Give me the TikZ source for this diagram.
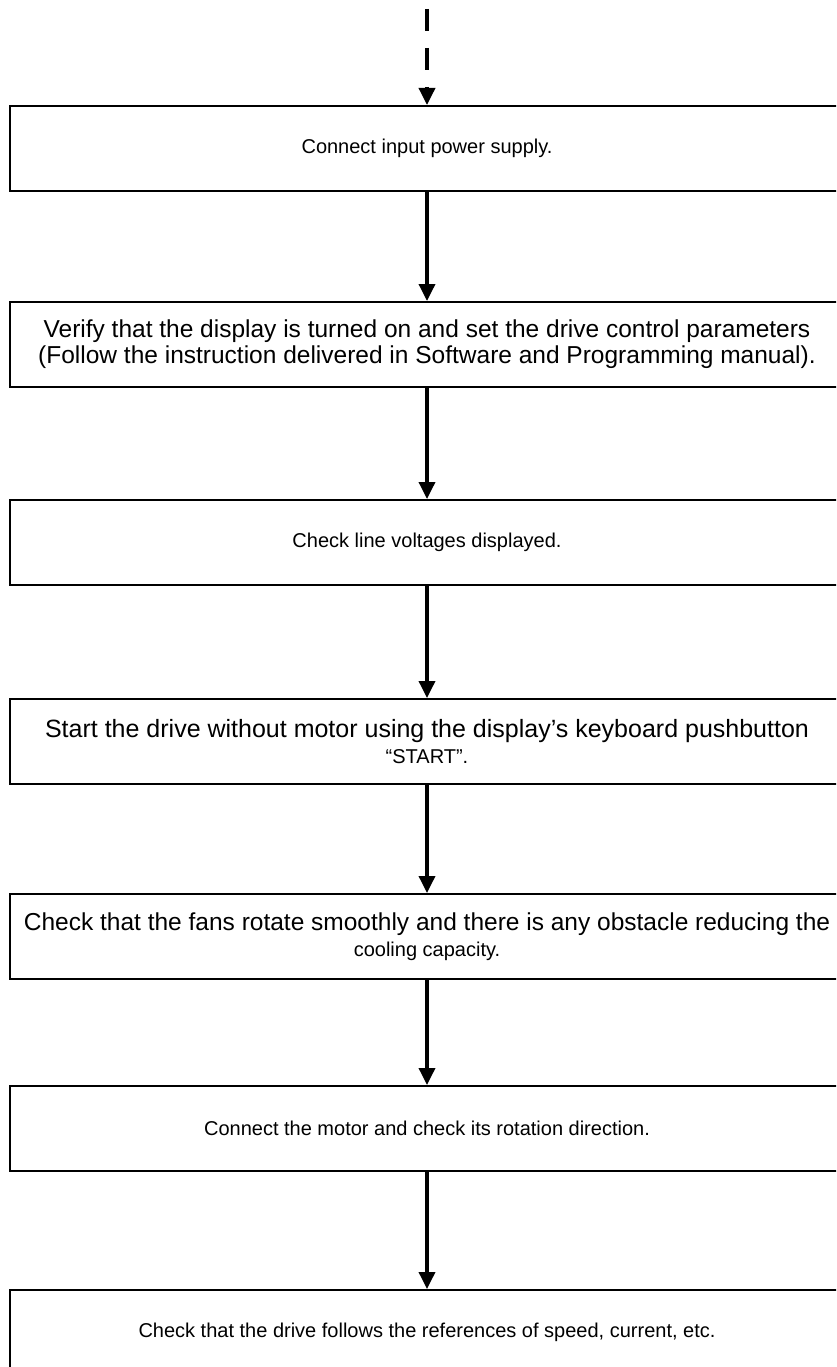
\documentclass[tikz,border=0pt]{standalone}
\usepackage{fontspec}
\setmainfont{Liberation Sans}
\usetikzlibrary{arrows.meta}
\newcommand{\bigline}{\fontsize{25pt}{26pt}\selectfont}
\newcommand{\fanline}{\fontsize{24.5pt}{26pt}\selectfont}
\newcommand{\midline}{\fontsize{24.5pt}{26pt}\selectfont}
\newcommand{\smallline}{\fontsize{20pt}{26pt}\selectfont}
\tikzset{
  stepbox/.style={draw=black, line width=1.6pt, minimum width=834pt, minimum height=85pt,
    inner sep=0pt, anchor=north, align=center,
    font=\fontsize{20pt}{26pt}\selectfont},
  flowarrow/.style={line width=3.5pt, -{Triangle[width=16pt,length=17pt]}},
  dasharrow/.style={flowarrow, dash pattern=on 22pt off 17pt}
}
\begin{document}
\begin{tikzpicture}[x=1pt,y=-1pt]
\clip (0,0) rectangle (836,1367);
\fill[white] (0,0) rectangle (836,1367);
\coordinate (start) at (427,9);
\node[stepbox] (b1) at (427,105) {Connect input power supply.};
\node[stepbox] (b2) at (427,301) {\midline Verify that the display is turned on and set the drive control parameters\\\midline (Follow the instruction delivered in Software and Programming manual).};
\node[stepbox] (b3) at (427,499) {Check line voltages displayed.};
\node[stepbox] (b4) at (427,698) {\bigline Start the drive without motor using the display’s keyboard pushbutton\\\smallline “START”.};
\node[stepbox] (b5) at (427,893) {\fanline Check that the fans rotate smoothly and there is any obstacle reducing the\\\smallline cooling capacity.};
\node[stepbox] (b6) at (427,1085) {Connect the motor and check its rotation direction.};
\node[stepbox] (b7) at (427,1289) {Check that the drive follows the references of speed, current, etc.};
\draw[dasharrow] (start) -- (b1.north);
\draw[flowarrow] (b1.south) -- (b2.north);
\draw[flowarrow] (b2.south) -- (b3.north);
\draw[flowarrow] (b3.south) -- (b4.north);
\draw[flowarrow] (b4.south) -- (b5.north);
\draw[flowarrow] (b5.south) -- (b6.north);
\draw[flowarrow] (b6.south) -- (b7.north);
\end{tikzpicture}
\end{document}
